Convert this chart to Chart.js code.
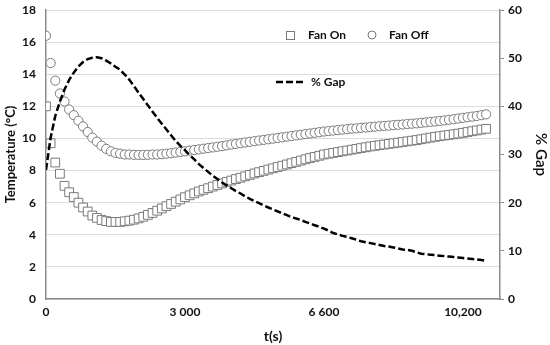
<!DOCTYPE html>
<html>
<head>
<meta charset="utf-8">
<script src="https://cdn.jsdelivr.net/npm/chart.js@4"></script>
<style>
  html, body { margin: 0; padding: 0; background: #fff; }
  #wrap { width: 550px; height: 345px; position: relative; }
</style>
</head>
<body>
<div id="wrap"><canvas id="myChart" width="550" height="345"></canvas></div>
<script>
// sample index -> tick labels shown under the axis
const tickIdx = [0, 30, 60, 90];
const tickLabels = ['0', '3 000', '6 600', '10,200'];

// Temperature (°C), one value per sample
const fanOn = [
  12.0, 9.7, 8.5, 7.8, 7.05, 6.65, 6.35, 6.0, 5.7, 5.45,
  5.2, 5.05, 4.92, 4.85, 4.8, 4.8, 4.8, 4.84, 4.88, 4.94,
  5.02, 5.12, 5.24, 5.36, 5.5, 5.64, 5.78, 5.92, 6.06, 6.2,
  6.34, 6.46, 6.58, 6.7, 6.8, 6.9, 7.0, 7.1, 7.2, 7.29,
  7.38, 7.47, 7.55, 7.64, 7.73, 7.82, 7.9, 7.98, 8.06, 8.14,
  8.22, 8.3, 8.38, 8.46, 8.54, 8.62, 8.7, 8.78, 8.85, 8.92,
  9.0, 9.05, 9.1, 9.15, 9.2, 9.25, 9.3, 9.35, 9.4, 9.45,
  9.5, 9.54, 9.58, 9.62, 9.66, 9.7, 9.74, 9.78, 9.82, 9.86,
  9.9, 9.95, 10.0, 10.05, 10.1, 10.14, 10.18, 10.22, 10.26, 10.3,
  10.35, 10.4, 10.45, 10.5, 10.55, 10.6
];
const fanOff = [
  16.4, 14.7, 13.6, 12.8, 12.3, 11.8, 11.45, 11.1, 10.75, 10.4,
  10.05, 9.8, 9.55, 9.35, 9.2, 9.1, 9.05, 9.0, 9.0, 8.98,
  8.97, 8.97, 8.98, 9.0, 9.0, 9.02, 9.05, 9.08, 9.12, 9.16,
  9.2, 9.24, 9.28, 9.32, 9.36, 9.4, 9.44, 9.48, 9.52, 9.57,
  9.62, 9.66, 9.7, 9.75, 9.79, 9.83, 9.87, 9.91, 9.95, 9.99,
  10.03, 10.07, 10.11, 10.15, 10.19, 10.23, 10.27, 10.31, 10.35, 10.39,
  10.43, 10.46, 10.49, 10.52, 10.55, 10.58, 10.61, 10.63, 10.66, 10.68,
  10.71, 10.73, 10.76, 10.78, 10.8, 10.83, 10.85, 10.87, 10.9, 10.92,
  10.94, 10.97, 11.0, 11.03, 11.06, 11.09, 11.12, 11.16, 11.2, 11.24,
  11.28, 11.32, 11.36, 11.4, 11.45, 11.5
];
// % Gap, right axis
const gap = [
  26.8, 33.5, 38, 41, 43.5, 45.5, 47, 48.3, 49.2, 49.8,
  50.1, 50.2, 50.0, 49.5, 48.9, 48.2, 47.6, 46.6, 45.5, 44.2,
  42.8, 41.5, 40.2, 38.9, 37.6, 36.4, 35.2, 34.0, 32.8, 31.8,
  30.9, 29.9, 29.0, 28.0, 27.2, 26.4, 25.6, 24.9, 24.2, 23.6,
  23.0, 22.4, 21.9, 21.3, 20.8, 20.3, 19.9, 19.4, 19.0, 18.6,
  18.2, 17.8, 17.4, 17.0, 16.7, 16.4, 16.0, 15.7, 15.3, 15.0,
  14.6, 14.2, 13.7, 13.4, 13.1, 12.9, 12.6, 12.3, 12.0, 11.8,
  11.6, 11.4, 11.2, 11.0, 10.9, 10.7, 10.5, 10.3, 10.2, 10.0,
  9.7, 9.4, 9.3, 9.2, 9.1, 9.0, 8.9, 8.8, 8.7, 8.6,
  8.5, 8.4, 8.3, 8.2, 8.1, 7.9
];

const FONT = 'Lato, "Liberation Sans", sans-serif';
const AXIS = '#8c8c8c';
const MARK = '#7a7a7a';

const toXY = arr => arr.map((v, i) => ({x: i, y: v}));

// drop the extra room chart.js keeps for the end tick labels
function fitY(width) {
  return axis => {
    axis.width = width;
    axis.paddingTop = 0;
    axis.paddingBottom = 0;
  };
}

// legend drawn by hand where the original sits inside the plot
const legendPlugin = {
  id: 'handLegend',
  afterDraw(chart) {
    const c = chart.ctx;
    c.save();
    c.font = 'bold 12px ' + FONT;
    c.textBaseline = 'middle';
    c.strokeStyle = MARK;
    c.lineWidth = 1;
    c.fillStyle = '#fff';
    c.fillRect(286, 31, 8, 8);
    c.strokeRect(286.5, 31.5, 8, 8);
    c.beginPath();
    c.arc(372, 35, 4, 0, Math.PI * 2);
    c.fill();
    c.stroke();
    c.fillStyle = '#111';
    c.fillText('Fan On', 308, 35);
    c.fillText('Fan Off', 389, 35);
    c.strokeStyle = '#000';
    c.lineWidth = 2.5;
    c.setLineDash([7, 3]);
    c.beginPath();
    c.moveTo(276, 82);
    c.lineTo(303, 82);
    c.stroke();
    c.setLineDash([]);
    c.fillText('% Gap', 311, 82);
    c.restore();
  }
};

const ctx = document.getElementById('myChart').getContext('2d');
const myChart = new Chart(ctx, {
  type: 'scatter',
  data: {
    datasets: [
      {
        label: '% Gap',
        data: toXY(gap),
        yAxisID: 'y1',
        showLine: true,
        borderColor: '#000',
        borderWidth: 2.5,
        borderDash: [7, 3],
        pointRadius: 0,
        fill: false,
        order: 0
      },
      {
        label: 'Fan On',
        data: toXY(fanOn),
        yAxisID: 'y',
        pointStyle: 'rect',
        pointRadius: 6.2,
        backgroundColor: '#fff',
        borderColor: MARK,
        borderWidth: 1,
        order: 2
      },
      {
        label: 'Fan Off',
        data: toXY(fanOff),
        yAxisID: 'y',
        pointStyle: 'circle',
        pointRadius: 4.6,
        backgroundColor: '#fff',
        borderColor: MARK,
        borderWidth: 1,
        order: 1
      }
    ]
  },
  options: {
    responsive: false,
    animation: false,
    layout: { padding: { top: 10, left: 0, right: 0, bottom: 0 } },
    plugins: {
      legend: { display: false },
      tooltip: { enabled: false }
    },
    scales: {
      x: {
        type: 'linear',
        min: 0,
        max: 98,
        afterBuildTicks: axis => { axis.ticks = tickIdx.map(v => ({value: v})); },
        afterFit: axis => { axis.height = 46; axis.paddingLeft = 0; axis.paddingRight = 0; },
        ticks: {
          autoSkip: false,
          maxRotation: 0,
          padding: 6,
          color: '#111',
          font: { family: FONT, size: 12, weight: 'bold' },
          callback: v => tickLabels[tickIdx.indexOf(v)]
        },
        grid: { display: false, drawTicks: false },
        border: { color: AXIS, width: 1.5 },
        title: {
          display: true,
          text: 't(s)',
          color: '#111',
          padding: { top: 2, bottom: 0 },
          font: { family: FONT, size: 14, weight: 'bold' }
        }
      },
      y: {
        position: 'left',
        min: 0,
        max: 18,
        afterFit: fitY(46),
        ticks: {
          stepSize: 2,
          padding: 10,
          color: '#111',
          font: { family: FONT, size: 12, weight: 'bold' }
        },
        grid: { color: '#dcdcdc', drawTicks: false },
        border: { color: AXIS, width: 1.5 },
        title: {
          display: true,
          text: 'Temperature (°C)',
          color: '#111',
          padding: { top: 3, bottom: 2 },
          font: { family: FONT, size: 13, weight: 'bold' }
        }
      },
      y1: {
        position: 'right',
        min: 0,
        max: 60,
        afterFit: fitY(50),
        ticks: {
          stepSize: 10,
          padding: 4,
          color: '#111',
          font: { family: FONT, size: 12, weight: 'bold' }
        },
        grid: { drawOnChartArea: false, color: AXIS, tickLength: 4 },
        border: { color: AXIS, width: 1.5 },
        title: {
          display: true,
          text: '% Gap',
          color: '#111',
          padding: { top: 0, bottom: 2 },
          font: { family: FONT, size: 15, weight: '600' }
        }
      }
    }
  },
  plugins: [legendPlugin]
});
</script>
</body>
</html>
